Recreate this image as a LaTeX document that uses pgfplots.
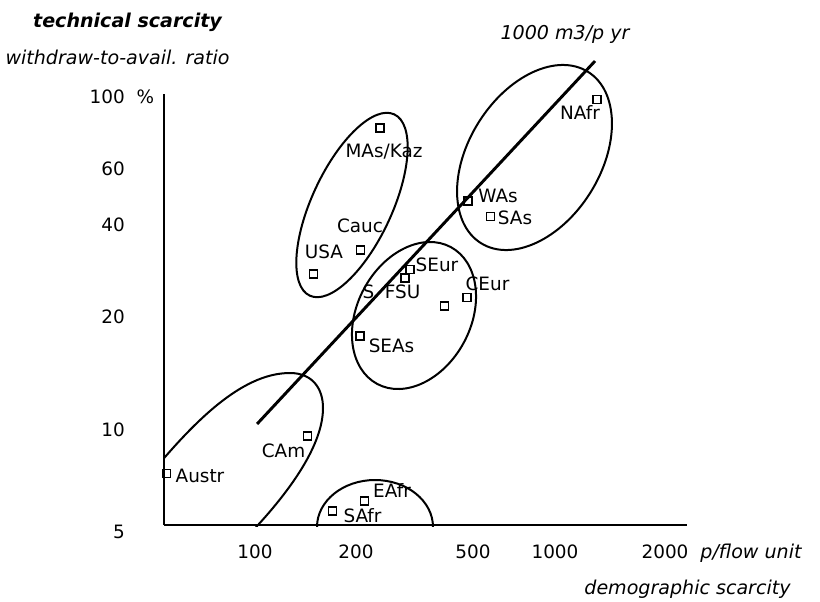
\documentclass[border=0pt]{standalone}
\usepackage{pgfplots}
\pgfplotsset{compat=1.18}
\usepackage{fontspec}
\setmainfont{DejaVu Sans}
\begin{document}
\begin{tikzpicture}
\useasboundingbox (-123pt,-57pt) rectangle (492pt,393.75pt);
\begin{axis}[
  name=ax, at={(0,0)}, anchor=south west, scale only axis,
  width=392.25pt, height=323.25pt,
  xmode=log, ymode=log,
  xmin=49.8, xmax=2476, ymin=5, ymax=102.1,
  axis x line=bottom, axis y line=left,
  axis line style={-, line width=1.6pt},
  x axis line style={-}, y axis line style={-},
  xtick={98.3,208.9,500.6,923.6,2101},
  xticklabels={100,200,500,1000,2000},
  ytick={5,9.72,21.4,40.8,60.4,100},
  yticklabels={{\raisebox{-5.25pt}[\height][\depth]{5}},10,20,40,60,{100\rlap{\hspace{9pt}\%}}},
  major tick length=0pt, minor tick length=0pt,
  minor xtick={}, minor ytick={},
  tick label style={font=\fontsize{13.8pt}{16pt}\selectfont, inner sep=0pt},
  xticklabel style={anchor=center, yshift=-20.25pt},
  yticklabel style={anchor=east, xshift=-29.25pt},
  clip=false,
]
\addplot[only marks, mark=square, mark size=3pt, mark options={line width=1.2pt, fill=white}] coordinates {
  (250.0,80.5) (1261.5,98.2) (481.6,48.2) (570.6,43.3) (215.8,34.3)
  (151.9,28.97) (312.8,29.9) (301.8,28.2) (478.7,24.6) (404.1,23.2)
  (215.3,18.8) (145.5,9.34) (50.7,7.18) (222.6,5.91) (175.1,5.51)
};
\addplot[line width=2.2pt, no marks] coordinates {(99.8,10.14) (1245.6,128.6)};
\end{axis}
\begin{scope}[shift={(-123pt,393.75pt)}, x=0.75pt, y=-0.75pt]
  \begin{scope}
    \clip (164,0) rectangle (820,526);
    \draw[line width=1.5pt, rotate around={65:(352,205)}] (352,205) ellipse [x radius=100, y radius=40];
    \draw[line width=1.5pt, rotate around={58:(534.5,157.5)}] (534.5,157.5) ellipse [x radius=101, y radius=66];
    \draw[line width=1.5pt, rotate around={61.7:(414,315.5)}] (414,315.5) ellipse [x radius=77.7, y radius=56.7];
    \draw[line width=1.5pt] (140,487) .. controls (190,425) and (240,373) .. (290,373)
      .. controls (312,373) and (323,388) .. (323,408)
      .. controls (323,445) and (290,490) .. (258,525) -- (248,536);
    \draw[line width=1.5pt] (375,527) ellipse [x radius=58, y radius=47];
  \end{scope}
  \begin{scope}[every node/.style={inner sep=0pt, anchor=base, font=\fontsize{13.8pt}{16pt}\selectfont}]
    \node at (384,157) {MAs/Kaz};
    \node at (360,232) {Cauc};
    \node at (324,258) {USA};
    \node at (437,271) {SEur};
    \node at (402.5,298) {FSU};
    \node at (368.5,298) {S};
    \node at (487.5,290) {CEur};
    \node at (391.5,352) {SEAs};
    \node at (498,202) {WAs};
    \node at (515,224) {SAs};
    \node at (580,119) {NAfr};
    \node at (283.5,457) {CAm};
    \node at (200,482) {Austr};
    \node at (392,497) {EAfr};
    \node at (362.5,522) {SAfr};
  \end{scope}
  \begin{scope}[every node/.style={inner sep=0pt, anchor=base, font=\fontsize{14.3pt}{16pt}\selectfont\itshape}]
    \node[font=\fontsize{14.3pt}{16pt}\selectfont\bfseries\itshape] at (127.5,28) {technical scarcity};
    \node at (117.5,65) {withdraw-to-avail. ratio};
    \node at (565,40) {1000 m3/p yr};
    \node at (751,558) {p/flow unit};
    \node at (687.5,594) {demographic scarcity};
  \end{scope}
\end{scope}
\end{tikzpicture}
\end{document}
